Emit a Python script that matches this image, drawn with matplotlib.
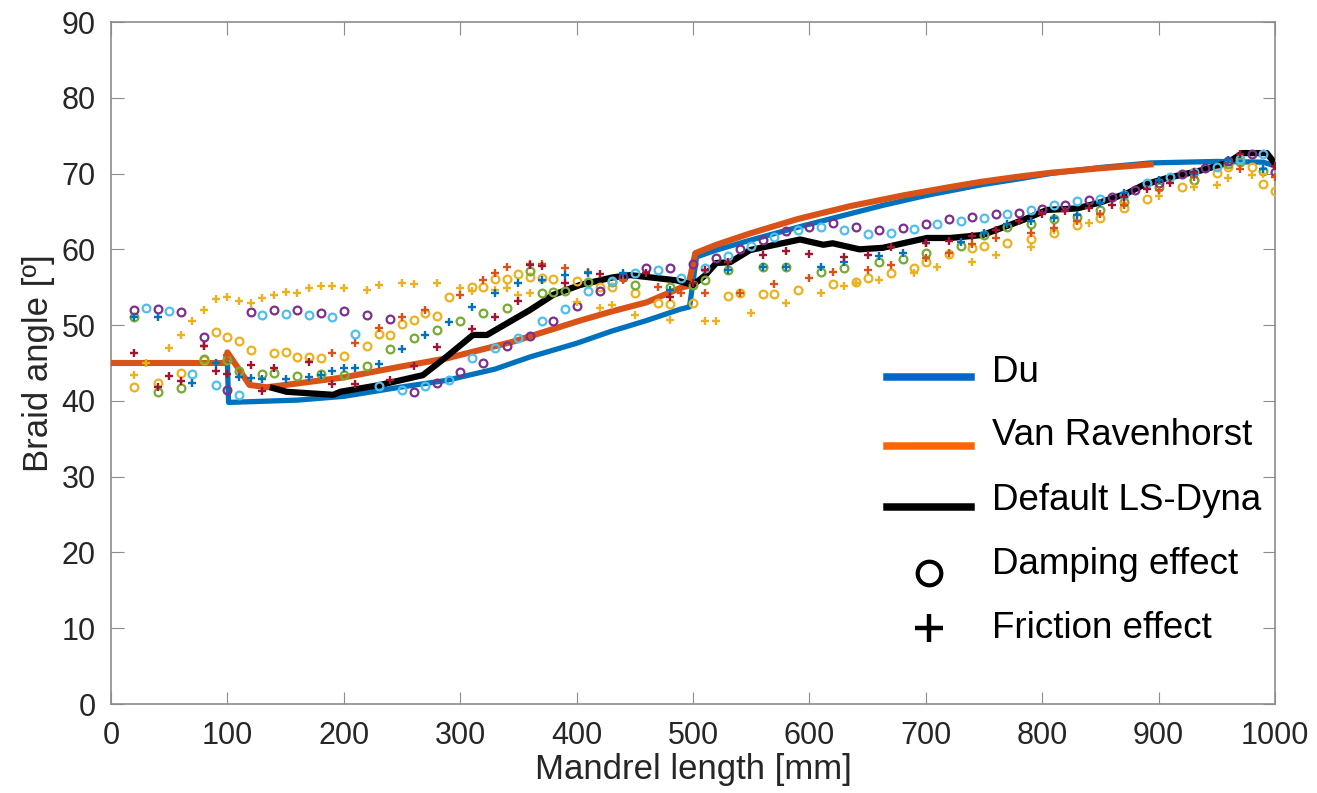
import matplotlib
matplotlib.use("Agg")
import matplotlib.pyplot as plt
from matplotlib.lines import Line2D

plt.rcParams['font.family'] = ['Liberation Sans', 'DejaVu Sans']

# model curves
du_x = [0, 100, 101, 160, 200, 248, 288, 330, 360, 400, 430, 460, 489, 497, 503, 520, 549, 592, 630, 663,
        700, 747, 780, 807, 850, 893, 950, 990, 1000]
du_y = [45, 45, 39.8, 40.1, 40.6, 41.8, 42.7, 44.2, 45.8, 47.6, 49.2, 50.6, 52.1, 52.4, 59.0, 59.9, 61.2,
        63.0, 64.5, 65.8, 67.1, 68.5, 69.3, 70.0, 70.8, 71.4, 71.6, 71.5, 71.0]

vr_x = [0, 98, 100, 119, 134, 160, 200, 248, 288, 345, 403, 430, 460, 489, 496, 502, 520, 549, 590, 635,
        680, 720, 747, 780, 807, 850, 893]
vr_y = [45, 45, 46.4, 42.1, 41.8, 42.3, 43.1, 44.5, 45.6, 47.8, 50.6, 51.8, 53.0, 54.9, 55.2, 59.5, 60.6,
        62.1, 64.0, 65.7, 67.1, 68.2, 68.9, 69.6, 70.1, 70.7, 71.2]

ls_x = [139, 151, 191, 197, 231, 248, 268, 288, 311, 323, 360, 380, 403, 431, 446, 469, 486, 500, 510,
        520, 532, 549, 592, 612, 620, 643, 663, 701, 721, 749, 784, 804, 830, 850, 873, 887, 907, 936,
        959, 972, 993, 1000]
ls_y = [41.7, 41.2, 40.8, 41.2, 42.1, 42.7, 43.4, 45.8, 48.7, 48.7, 52.0, 54.0, 55.3, 56.3, 56.6, 56.2,
        55.9, 55.3, 56.5, 58.2, 58.3, 59.9, 61.3, 60.6, 60.8, 60.0, 60.2, 61.5, 61.5, 61.9, 63.9, 65.2,
        65.4, 66.2, 67.4, 68.5, 69.4, 70.4, 71.4, 72.7, 72.7, 71.3]

# damping effect (circles)
purple_x = list(range(20, 1001, 20))
purple_y = [52.0, 52.1, 51.7, 48.4, 41.5, 51.7, 52.0, 52.0, 51.6, 51.8, 51.4, 50.8, 41.2, 42.3, 43.8,
            45.0, 47.2, 48.5, 50.5, 52.5, 54.5, 56.3, 57.5, 57.5, 58.0, 58.8, 60.1, 61.2, 62.4, 63.0,
            63.5, 63.0, 62.5, 62.8, 63.3, 64.0, 64.3, 64.6, 64.8, 65.3, 65.8, 66.5, 66.9, 67.8, 68.7,
            70.0, 70.7, 71.6, 72.6, 70.2]

ltblue_x = list(range(30, 1000, 20))
ltblue_y = [52.2, 51.8, 43.5, 42.1, 40.8, 51.3, 51.5, 51.3, 51.1, 48.8, 42.0, 41.5, 42.0, 42.8, 45.6,
            47.0, 48.3, 50.5, 52.1, 54.5, 55.8, 56.9, 57.3, 56.2, 57.5, 59.1, 60.5, 61.6, 62.5, 63.0,
            62.6, 62.0, 62.1, 62.7, 63.3, 63.8, 64.2, 64.7, 65.2, 65.8, 66.4, 66.7, 67.2, 68.7, 69.5,
            70.2, 70.8, 71.9, 72.6]

yelc_x = [20, 40, 60, 80, 90, 100, 110, 120, 140, 150, 160, 170, 180, 200, 220, 230, 240, 250, 260, 270,
          280, 290, 310, 320, 330, 340, 350, 360, 370, 380, 400, 420, 430, 450, 470, 480, 500, 530, 540,
          560, 570, 590, 620, 640, 650, 670, 690, 700, 720, 740, 750, 770, 790, 810, 830, 850, 870, 890,
          920, 930, 950, 960, 980, 990, 1000]
yelc_y = [41.8, 42.3, 43.7, 45.4, 49.1, 48.4, 47.9, 46.7, 46.3, 46.4, 45.8, 45.8, 45.7, 45.9, 47.2, 48.8,
          48.7, 50.1, 50.7, 51.6, 51.2, 53.7, 55.0, 55.0, 56.1, 56.1, 56.7, 56.3, 56.2, 56.1, 55.8, 55.0,
          55.0, 54.2, 52.9, 52.8, 52.9, 53.8, 54.2, 54.1, 54.1, 54.6, 55.4, 55.7, 56.2, 56.9, 57.6, 58.3,
          59.4, 60.2, 60.4, 60.8, 61.4, 62.2, 63.2, 64.2, 65.4, 66.6, 68.2, 69.1, 70.1, 70.8, 70.8, 68.6,
          67.7]

green_x = [20, 40, 60, 80, 100, 110, 130, 140, 160, 180, 200, 220, 240, 260, 280, 300, 320, 340, 360, 370,
           380, 390, 410, 430, 450, 480, 500, 510, 530, 560, 580, 610, 630, 660, 680, 700, 730, 750, 770,
           790, 810, 830, 850, 870, 900, 930, 960, 970, 990]
green_y = [51.1, 41.2, 41.7, 45.5, 45.4, 44.0, 43.5, 43.7, 43.3, 43.6, 43.4, 44.6, 46.8, 48.3, 49.3, 50.5,
           51.6, 52.2, 57.2, 54.2, 54.4, 54.5, 55.7, 55.7, 55.3, 55.0, 55.3, 55.9, 57.3, 57.7, 57.7, 57.0,
           57.5, 58.3, 58.7, 59.5, 60.5, 61.9, 62.9, 63.4, 64.0, 64.3, 65.2, 66.2, 68.2, 69.1, 71.3, 71.5,
           70.4]

# friction effect (pluses)
yelp_x = [20, 30, 50, 60, 70, 80, 90, 100, 110, 120, 130, 140, 150, 160, 170, 180, 190, 200, 220, 230,
          250, 260, 280, 300, 310, 330, 340, 350, 360, 400, 420, 430, 450, 480, 510, 520, 550, 580, 610,
          630, 640, 660, 690, 710, 740, 760, 790, 810, 840, 870, 900, 930, 950, 960, 980, 990]
yelp_y = [43.4, 45.0, 47.0, 48.7, 50.5, 52.0, 53.5, 53.7, 53.2, 52.9, 53.6, 54.0, 54.4, 54.2, 54.9, 55.1,
          55.1, 54.9, 54.6, 55.3, 55.6, 55.4, 55.6, 54.9, 54.5, 54.6, 54.9, 54.0, 54.2, 53.0, 52.2, 52.7,
          51.4, 50.7, 50.5, 50.5, 51.6, 52.9, 54.2, 55.1, 55.5, 55.9, 56.9, 57.7, 58.3, 59.2, 60.3, 62.5,
          63.5, 66.1, 67.0, 68.2, 68.5, 69.4, 69.8, 70.0]

dred_x = [20, 40, 50, 60, 80, 90, 100, 120, 130, 140, 170, 190, 210, 240, 260, 280, 310, 330, 350, 360,
          370, 390, 420, 460, 480, 500, 510, 530, 560, 580, 600, 630, 650, 670, 700, 720, 740, 760, 780,
          800, 820, 840, 860, 870, 890, 910, 930, 970, 1000]
dred_y = [46.3, 41.8, 43.3, 42.6, 47.2, 43.9, 43.6, 44.7, 41.3, 44.4, 45.1, 42.2, 42.2, 42.7, 44.6, 47.1,
          49.5, 51.1, 53.2, 57.9, 57.8, 55.5, 56.7, 56.9, 53.7, 55.5, 57.3, 58.3, 59.2, 59.8, 59.4, 59.0,
          59.2, 60.3, 60.8, 61.1, 61.7, 62.6, 63.8, 64.6, 65.0, 65.4, 65.8, 66.9, 68.0, 68.8, 70.2, 72.6,
          71.0]

orgp_x = [80, 100, 190, 210, 230, 250, 270, 300, 320, 330, 340, 360, 370, 390, 410, 440, 470, 490, 510,
          540, 570, 600, 620, 650, 670, 700, 720, 740, 760, 790, 810, 830, 850, 870, 900, 930, 970, 1000]
orgp_y = [47.2, 46.0, 46.3, 47.6, 49.6, 51.1, 52.0, 54.0, 55.9, 56.9, 57.7, 58.0, 58.0, 57.6, 57.0, 56.0,
          55.0, 54.3, 54.2, 54.2, 55.4, 56.2, 57.0, 57.3, 57.9, 58.8, 59.5, 60.7, 61.5, 62.2, 62.8, 63.8,
          64.7, 65.8, 67.8, 69.5, 70.6, 69.5]

bluep_x = [20, 40, 70, 90, 110, 120, 130, 150, 170, 180, 190, 200, 210, 230, 250, 270, 290, 310, 330, 350,
           370, 390, 410, 440, 480, 530, 560, 580, 610, 630, 660, 680, 700, 730, 750, 770, 790, 810, 830,
           850, 870, 900, 930, 960, 990]
bluep_y = [51.1, 51.1, 42.3, 45.0, 43.1, 43.0, 42.9, 42.9, 43.1, 43.4, 43.9, 44.3, 44.3, 44.9, 46.8, 48.7,
           50.4, 52.4, 54.2, 55.5, 55.9, 56.6, 56.9, 56.9, 54.6, 57.3, 57.7, 57.7, 57.7, 58.3, 59.1, 59.5,
           60.8, 61.0, 62.1, 63.4, 63.8, 64.2, 64.5, 66.1, 67.4, 69.1, 70.0, 71.8, 70.6]

x_ticks = list(range(0, 1001, 100))
y_ticks = list(range(0, 91, 10))

c_blue = (0, 0.447, 0.741)
c_orange = (0.85, 0.325, 0.098)
c_yellow = (0.929, 0.694, 0.125)
c_purple = (0.494, 0.184, 0.556)
c_green = (0.466, 0.674, 0.188)
c_ltblue = (0.301, 0.745, 0.933)
c_dred = (0.635, 0.078, 0.184)

W, H = 1317, 793
fig = plt.figure(figsize=(W / 100, H / 100), dpi=100)
ax = fig.add_axes([111 / W, 1 - 704 / H, (1275 - 111) / W, (704 - 22) / H])

ax.plot(du_x, du_y, color=c_blue, lw=3.8, zorder=2, solid_joinstyle='round')
ax.plot(vr_x, vr_y, color=c_orange, lw=4.4, zorder=3, solid_joinstyle='round')
ax.plot(ls_x, ls_y, color='black', lw=4.5, zorder=4, solid_joinstyle='round')

circ = dict(ls='none', marker='o', mfc='none', ms=5.6, mew=1.6, zorder=5)
plus = dict(ls='none', marker='+', ms=6.2, mew=1.7, zorder=5)
ax.plot(yelc_x, yelc_y, color=c_yellow, **circ)
ax.plot(green_x, green_y, color=c_green, **circ)
ax.plot(ltblue_x, ltblue_y, color=c_ltblue, **circ)
ax.plot(purple_x, purple_y, color=c_purple, **circ)
ax.plot(yelp_x, yelp_y, color=c_yellow, **plus)
ax.plot(orgp_x, orgp_y, color=c_orange, **plus)
ax.plot(bluep_x, bluep_y, color=c_blue, **plus)
ax.plot(dred_x, dred_y, color=c_dred, **plus)

ax.set_xlim(0, 1000)
ax.set_ylim(0, 90)
ax.set_xticks(x_ticks)
ax.set_yticks(y_ticks)
for s in ax.spines.values():
    s.set_color('#8c8c8c')
    s.set_linewidth(1.2)
ax.tick_params(direction='in', length=9, width=0.8, color='#8c8c8c', top=True, right=True,
               labelsize=22, labelcolor='#262626')
ax.tick_params(axis='x', pad=12)
ax.tick_params(axis='y', pad=11)
ax.set_xlabel('Mandrel length [mm]', fontsize=25, color='#262626', labelpad=2)
ax.set_ylabel('Braid angle [º]', fontsize=25, color='#262626', labelpad=5)

# legend drawn on top, like the original overlay
leg_lines = [(377, '#0066CC'), (446, '#FF6600'), (507, 'black')]
for py, col in leg_lines:
    fig.add_artist(Line2D([887 / W, 971 / W], [1 - py / H, 1 - py / H], color=col, lw=5.4))
fig.add_artist(Line2D([929 / W], [1 - 573 / H], marker='o', mfc='none', mec='black', ms=17, mew=3))
fig.add_artist(Line2D([929 / W], [1 - 628 / H], marker='+', color='black', ms=20, mew=3.2))
leg_text = [(373, 'Du'), (435, 'Van Ravenhorst'), (500, 'Default LS-Dyna'),
            (565, 'Damping effect'), (628, 'Friction effect')]
for py, t in leg_text:
    fig.text(992 / W, 1 - py / H, t, fontsize=26.5, va='center', ha='left', color='black')

fig.savefig('out.png', dpi=100)
